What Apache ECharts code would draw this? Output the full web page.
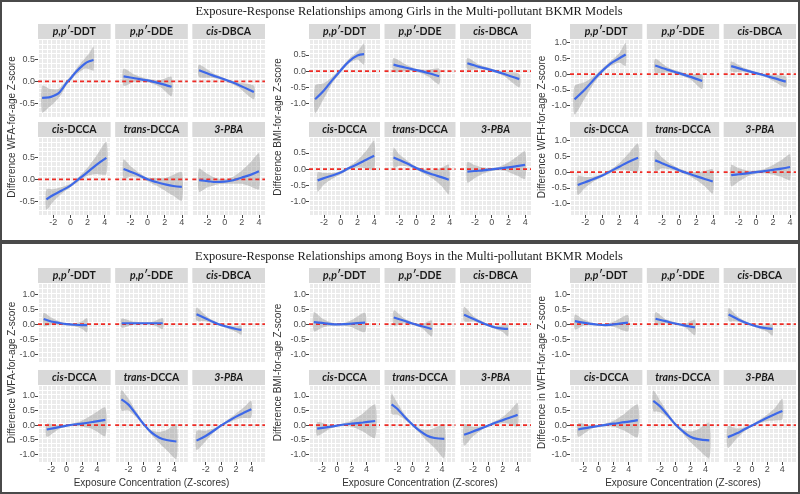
<!DOCTYPE html>
<html>
<head>
<meta charset="utf-8">
<script src="https://cdn.jsdelivr.net/npm/echarts@6/dist/echarts.min.js"></script>
<style>
html, body { margin: 0; padding: 0; background: #fff; }
#chart { width: 800px; height: 494px; }
</style>
</head>
<body>
<div id="chart"></div>
<script>
// facet names (italic part + rest)
var compounds = ['p,p′-DDT', 'p,p′-DDE', 'cis-DBCA', 'cis-DCCA', 'trans-DCCA', '3-PBA'];
var italicPart = ['p,p′', 'p,p′', 'cis', 'cis', 'trans', '3-PBA'];
var xTicks = [-2, 0, 2, 4];
var yTicksWFAgirls = [-0.5, 0, 0.5];
var yTicksBMIgirls = [-1, -0.5, 0, 0.5];
var yTicksFull = [-1, -0.5, 0, 0.5, 1];
var refValue = 0; // null-effect reference line

// each facet: rows of [exposure z, fit, lower, upper]
var girlsWFA = [
  [[-3.3,-0.37,-0.7,-0.1],[-2.5,-0.36,-0.58,-0.16],[-2,-0.33,-0.5,-0.18],[-1.4,-0.27,-0.38,-0.17],[-1,-0.18,-0.27,-0.1],[-0.4,-0.02,-0.07,0.03],[0,0.06,0.01,0.11],[0.55,0.19,0.13,0.25],[1,0.28,0.2,0.36],[1.7,0.4,0.28,0.52],[2.2,0.45,0.27,0.63],[2.7,0.48,0.24,0.78]],
  [[-2.8,0.11,-0.1,0.28],[-1.5,0.07,-0.01,0.15],[0,0.02,-0.02,0.06],[1.5,-0.05,-0.13,0.03],[2.8,-0.12,-0.33,0.1]],
  [[-3,0.25,0.1,0.37],[-1.5,0.14,0.08,0.2],[0,0.04,0.01,0.07],[1.5,-0.07,-0.12,-0.02],[3.4,-0.24,-0.4,-0.1]],
  [[-2.8,-0.45,-0.68,-0.22],[-2,-0.35,-0.5,-0.22],[-1,-0.25,-0.32,-0.17],[0,-0.14,-0.18,-0.1],[1,0.01,-0.04,0.06],[2,0.16,0.08,0.26],[3,0.32,0.12,0.52],[4.2,0.48,0.12,0.84]],
  [[-2.8,0.23,0.02,0.45],[-2,0.17,0.06,0.3],[-1,0.09,0.04,0.15],[0,0,-0.04,0.04],[1,-0.06,-0.14,0.03],[2,-0.11,-0.25,0.03],[3,-0.15,-0.37,0.1],[4,-0.17,-0.48,0.16]],
  [[-3,-0.02,-0.28,0.24],[-2,-0.04,-0.18,0.12],[-1,-0.06,-0.12,0.03],[0,-0.05,-0.1,0],[1,-0.02,-0.1,0.06],[2,0.04,-0.1,0.2],[3,0.1,-0.16,0.38],[4,0.18,-0.22,0.58]]
];
var girlsBMI = [
  [[-3.05,-0.87,-1.3,-0.45],[-2,-0.6,-0.85,-0.38],[-1,-0.28,-0.38,-0.18],[0,0.02,-0.04,0.08],[1,0.3,0.24,0.38],[2,0.48,0.36,0.6],[2.8,0.52,0.2,0.85]],
  [[-2.7,0.2,-0.03,0.4],[-1.35,0.11,0,0.22],[0,0.03,-0.02,0.07],[1.4,-0.06,-0.16,0.04],[2.75,-0.16,-0.41,0.07]],
  [[-2.9,0.24,0.05,0.4],[-1.5,0.13,0.06,0.2],[0,0.03,-0.01,0.07],[1.5,-0.09,-0.16,-0.02],[3.3,-0.25,-0.5,-0.09]],
  [[-2.75,-0.35,-0.7,-0.1],[-2,-0.28,-0.48,-0.12],[-1,-0.2,-0.3,-0.12],[0,-0.11,-0.16,-0.06],[1,0.03,-0.02,0.08],[2,0.15,0.05,0.27],[3,0.28,0.03,0.55],[4,0.41,-0.03,0.87]],
  [[-2.7,0.36,0.03,0.66],[-2,0.28,0.1,0.45],[-1,0.16,0.08,0.25],[0,0.03,-0.02,0.08],[1,-0.08,-0.15,-0.01],[2,-0.17,-0.3,-0.04],[3,-0.25,-0.52,0.04],[3.9,-0.33,-0.78,0.13]],
  [[-2.9,-0.08,-0.42,0.22],[-2,-0.06,-0.28,0.12],[-1,-0.04,-0.14,0.05],[0,-0.01,-0.06,0.03],[1,0.02,-0.04,0.08],[2,0.05,-0.09,0.2],[3,0.09,-0.2,0.38],[4,0.13,-0.3,0.55]]
];
var girlsWFH = [
  [[-3.25,-0.8,-1.28,-0.38],[-2,-0.48,-0.75,-0.25],[-1,-0.18,-0.3,-0.06],[0,0.1,0.04,0.17],[1,0.34,0.26,0.42],[2,0.5,0.36,0.66],[2.75,0.62,0.26,0.98]],
  [[-2.8,0.27,0.04,0.48],[-1.4,0.14,0.06,0.22],[0,0.03,-0.02,0.08],[1.35,-0.09,-0.17,-0.01],[2.7,-0.22,-0.47,-0.02]],
  [[-2.9,0.25,0.08,0.4],[-1.5,0.14,0.07,0.21],[0,0.03,-0.01,0.07],[1.5,-0.08,-0.14,-0.02],[3.5,-0.24,-0.42,-0.08]],
  [[-2.87,-0.41,-0.73,-0.12],[-2,-0.32,-0.5,-0.16],[-1,-0.22,-0.3,-0.14],[0,-0.11,-0.16,-0.06],[1,0.03,-0.02,0.08],[2,0.17,0.07,0.28],[3,0.31,0.06,0.56],[4.2,0.45,0,0.9]],
  [[-2.8,0.37,0.03,0.7],[-2,0.28,0.12,0.46],[-1,0.17,0.08,0.26],[0,0.06,0.01,0.11],[1,-0.04,-0.1,0.02],[2,-0.13,-0.25,-0.01],[3,-0.22,-0.45,0.03],[3.95,-0.3,-0.68,0.08]],
  [[-2.9,-0.1,-0.45,0.22],[-2,-0.07,-0.3,0.12],[-1,-0.04,-0.14,0.05],[0,0,-0.05,0.05],[1,0.03,-0.04,0.1],[2,0.07,-0.08,0.22],[3,0.11,-0.16,0.38],[4,0.16,-0.25,0.56]]
];
var boysWFA = [
  [[-3,0.17,-0.06,0.38],[-2,0.09,-0.02,0.22],[-1,0.04,-0.02,0.1],[0,0,-0.04,0.04],[1,-0.02,-0.07,0.03],[2,-0.03,-0.15,0.09],[2.7,-0.03,-0.27,0.2]],
  [[-2.9,0.03,-0.12,0.18],[-1.5,0.03,-0.03,0.09],[0,0.03,0,0.06],[1.2,0.03,-0.02,0.08],[2.5,0.03,-0.16,0.2]],
  [[-3.2,0.33,0.12,0.55],[-2,0.19,0.1,0.29],[-1,0.07,0.02,0.12],[0,-0.03,-0.07,0.01],[1,-0.1,-0.15,-0.05],[2,-0.16,-0.26,-0.07],[2.7,-0.19,-0.35,-0.05]],
  [[-2.6,-0.15,-0.4,0.04],[-1,-0.07,-0.13,-0.01],[0,-0.02,-0.05,0.01],[1,0.02,-0.03,0.07],[2,0.05,-0.05,0.15],[3.5,0.11,-0.15,0.37],[5.1,0.18,-0.37,0.6]],
  [[-2.93,0.88,0.5,1.2],[-2,0.7,0.5,0.9],[-1,0.37,0.28,0.47],[0,0.03,-0.02,0.08],[1,-0.25,-0.33,-0.17],[2,-0.42,-0.6,-0.24],[3,-0.51,-0.85,-0.17],[4.3,-0.56,-1.15,0.03]],
  [[-3.2,-0.53,-0.85,-0.2],[-2,-0.37,-0.55,-0.19],[-1,-0.2,-0.27,-0.12],[0,-0.02,-0.06,0.02],[1,0.14,0.08,0.2],[2,0.29,0.19,0.4],[3,0.42,0.24,0.6],[4,0.54,0.26,0.83]]
];
var boysBMI = [
  [[-3.1,0.07,-0.24,0.4],[-2,0.04,-0.12,0.2],[-1,0.01,-0.06,0.08],[0,-0.01,-0.05,0.03],[1,0,-0.05,0.05],[2,0.02,-0.1,0.14],[3.8,0.05,-0.26,0.38]],
  [[-2.5,0.22,-0.05,0.46],[-1.2,0.12,0.03,0.21],[0,0.02,-0.02,0.06],[1.3,-0.07,-0.14,0],[2.6,-0.16,-0.41,0.12]],
  [[-3.2,0.31,0.1,0.58],[-2,0.18,0.09,0.28],[-1,0.07,0.02,0.12],[0,-0.03,-0.07,0.01],[1,-0.11,-0.16,-0.06],[2,-0.15,-0.26,-0.04],[2.7,-0.16,-0.4,0]],
  [[-2.65,-0.12,-0.36,0.1],[-1,-0.06,-0.13,0.01],[0,-0.02,-0.05,0.01],[1,0.02,-0.03,0.07],[2,0.05,-0.06,0.16],[3.5,0.09,-0.22,0.4],[5.15,0.14,-0.44,0.7]],
  [[-2.8,0.71,0.38,1.08],[-2,0.55,0.35,0.75],[-1,0.27,0.18,0.36],[0,0.02,-0.03,0.07],[1,-0.2,-0.28,-0.12],[2,-0.36,-0.55,-0.17],[3,-0.44,-0.78,-0.1],[4.3,-0.47,-1.13,0.02]],
  [[-3.2,-0.33,-0.7,0.03],[-2,-0.22,-0.38,-0.06],[-1,-0.12,-0.19,-0.05],[0,-0.02,-0.06,0.02],[1,0.08,0.02,0.14],[2,0.17,0.06,0.28],[3,0.26,0.03,0.5],[4,0.35,-0.05,0.76]]
];
var boysWFH = [
  [[-3.1,0.1,-0.17,0.32],[-2,0.05,-0.05,0.16],[-1,0.01,-0.04,0.06],[0,-0.02,-0.05,0.01],[1,-0.03,-0.07,0.01],[2,-0.01,-0.09,0.08],[3.9,0.05,-0.24,0.3]],
  [[-2.6,0.18,-0.03,0.4],[-1.3,0.1,0.03,0.17],[0,0.02,-0.02,0.06],[1.3,-0.05,-0.11,0.01],[2.6,-0.11,-0.37,0.15]],
  [[-3.1,0.32,0.11,0.54],[-2,0.18,0.09,0.28],[-1,0.06,0.01,0.11],[0,-0.03,-0.07,0.01],[1,-0.1,-0.15,-0.05],[2,-0.14,-0.25,-0.04],[2.7,-0.16,-0.38,0]],
  [[-2.67,-0.15,-0.4,0.06],[-1,-0.07,-0.13,-0.01],[0,-0.03,-0.06,0],[1,0.01,-0.04,0.06],[2,0.05,-0.06,0.15],[3.5,0.1,-0.2,0.4],[5.2,0.17,-0.41,0.7]],
  [[-2.9,0.83,0.48,1.18],[-2,0.64,0.44,0.84],[-1,0.34,0.25,0.43],[0,0.03,-0.02,0.08],[1,-0.21,-0.29,-0.13],[2,-0.4,-0.58,-0.22],[3,-0.48,-0.82,-0.14],[4.5,-0.52,-1.13,0.08]],
  [[-3.2,-0.41,-0.78,-0.04],[-2,-0.28,-0.45,-0.11],[-1,-0.14,-0.21,-0.07],[0,-0.01,-0.05,0.03],[1,0.12,0.06,0.18],[2,0.25,0.14,0.36],[3,0.37,0.16,0.58],[4,0.48,0.2,0.9]]
];

var sections = [
  { title: 'Exposure-Response Relationships among Girls in the Multi-pollutant BKMR Models',
    titleY: 12, rows: [[24, 39, 117], [122, 137, 215]], xRange: [-3.78, 4.7], xTitle: false },
  { title: 'Exposure-Response Relationships among Boys in the Multi-pollutant BKMR Models',
    titleY: 257, rows: [[268, 283, 362], [370, 385, 462]], xRange: [-3.75, 5.8], xTitle: true }
];
var panelX = [[38, 265], [309, 531], [570, 796]];
var yTitleX = [12, 278, 542];

var panels = [
  { sec: 0, col: 0, data: girlsWFA, yName: 'Difference WFA-for-age Z-score', yTicks: yTicksWFAgirls, yRange: [-0.8, 0.95] },
  { sec: 0, col: 1, data: girlsBMI, yName: 'Difference BMI-for-age Z-score', yTicks: yTicksBMIgirls, yRange: [-1.42, 0.99] },
  { sec: 0, col: 2, data: girlsWFH, yName: 'Difference WFH-for-age Z-score', yTicks: yTicksFull, yRange: [-1.36, 1.11] },
  { sec: 1, col: 0, data: boysWFA, yName: 'Difference WFA-for-age Z-score', yTicks: yTicksFull, yRange: [-1.26, 1.37] },
  { sec: 1, col: 1, data: boysBMI, yName: 'Difference BMI-for-age Z-score', yTicks: yTicksFull, yRange: [-1.26, 1.37] },
  { sec: 1, col: 2, data: boysWFH, yName: 'Difference in WFH-for-age Z-score', yTicks: yTicksFull, yRange: [-1.26, 1.37] }
];

var axisFont = 'Liberation Sans, Arial, sans-serif';
var stripFont = 'Lato, Open Sans, sans-serif';
var grids = [], xAxes = [], yAxes = [], series = [], graphics = [];

sections.forEach(function (s) {
  graphics.push({ type: 'text', x: 409, y: s.titleY, silent: true,
    style: { text: s.title, font: '12.5px "Liberation Serif", "Times New Roman", serif', fill: '#1a1a1a', align: 'center', verticalAlign: 'middle' } });
});
graphics.push({ type: 'rect', shape: { x: 1, y: 1, width: 798, height: 240 }, silent: true, style: { fill: 'none', stroke: '#4a4a4a', lineWidth: 2 } });
graphics.push({ type: 'rect', shape: { x: 1, y: 243, width: 798, height: 250 }, silent: true, style: { fill: 'none', stroke: '#4a4a4a', lineWidth: 2 } });

panels.forEach(function (p) {
  var s = sections[p.sec];
  var px = panelX[p.col];
  var gap = 4.5;
  var cw = (px[1] - px[0] - 2 * gap) / 3;
  var mid = (s.rows[0][1] + s.rows[1][2]) / 2;
  graphics.push({ type: 'text', x: yTitleX[p.col], y: mid, rotation: Math.PI / 2, silent: true,
    style: { text: p.yName, font: '10px ' + axisFont, fill: '#333', align: 'center', verticalAlign: 'middle' } });
  if (s.xTitle) {
    graphics.push({ type: 'text', x: (px[0] + px[1]) / 2, y: 483, silent: true,
      style: { text: 'Exposure Concentration (Z-scores)', font: '10px ' + axisFont, fill: '#333', align: 'center', verticalAlign: 'middle' } });
  }
  p.data.forEach(function (rows, f) {
    var r = Math.floor(f / 3), c = f % 3;
    var row = s.rows[r];
    var left = px[0] + c * (cw + gap);
    var gi = grids.length;
    grids.push({ left: left, top: row[1], width: cw, height: row[2] - row[1], show: true,
      backgroundColor: '#EBEBEB', borderWidth: 0 });

    // strip
    var rest = compounds[f].slice(italicPart[f].length);
    graphics.push({ type: 'rect', shape: { x: left, y: row[0], width: cw, height: row[1] - row[0] }, silent: true, style: { fill: '#D9D9D9' } });
    graphics.push({ type: 'text', x: left + cw / 2, y: (row[0] + row[1]) / 2 + 0.5, silent: true,
      style: { text: '{i|' + italicPart[f] + '}' + (rest ? '{b|' + rest + '}' : ''), align: 'center', verticalAlign: 'middle',
        rich: { i: { fontFamily: stripFont, fontWeight: 'bold', fontStyle: 'italic', fontSize: 10.5, fill: '#1a1a1a' },
                b: { fontFamily: stripFont, fontWeight: 'bold', fontSize: 10.5, fill: '#1a1a1a' } } } });

    var showX = r === 1, showY = c === 0;
    xAxes.push({ type: 'value', gridIndex: gi, min: s.xRange[0], max: s.xRange[1], position: 'bottom',
      axisLine: { show: false, onZero: false }, splitLine: { show: false },
      axisTick: { show: showX, customValues: xTicks, length: 3, lineStyle: { color: '#444' } },
      axisLabel: { show: showX, customValues: xTicks, fontSize: 9, fontFamily: axisFont, color: '#4D4D4D', margin: 3 } });
    // helper axis for the fine background grid
    xAxes.push({ type: 'value', gridIndex: gi, min: 0, max: 16, interval: 1, position: 'top',
      axisLine: { show: false, onZero: false }, axisTick: { show: false }, axisLabel: { show: false },
      splitLine: { show: true, lineStyle: { color: '#FFFFFF', width: 1 } } });
    yAxes.push({ type: 'value', gridIndex: gi, min: p.yRange[0], max: p.yRange[1], position: 'left',
      axisLine: { show: false, onZero: false }, splitLine: { show: false },
      axisTick: { show: showY, customValues: p.yTicks, length: 3, lineStyle: { color: '#444' } },
      axisLabel: { show: showY, customValues: p.yTicks, fontSize: 9, fontFamily: axisFont, color: '#4D4D4D', margin: 3,
        formatter: function (v) { return v.toFixed(1); } } });
    yAxes.push({ type: 'value', gridIndex: gi, min: 0, max: 16, interval: 1, position: 'right',
      axisLine: { show: false, onZero: false }, axisTick: { show: false }, axisLabel: { show: false },
      splitLine: { show: true, lineStyle: { color: '#FFFFFF', width: 1 } } });

    series.push({
      type: 'custom', xAxisIndex: 2 * gi, yAxisIndex: 2 * gi, silent: true, z: 2,
      data: rows.map(function (d) { return [d[0], d[2], d[3]]; }),
      encode: { x: 0, y: [1, 2] },
      renderItem: function (params, api) {
        if (params.dataIndex !== 0) return null;
        var up = rows.map(function (d) { return api.coord([d[0], d[3]]); });
        var dn = rows.map(function (d) { return api.coord([d[0], d[2]]); }).reverse();
        return { type: 'polygon', shape: { points: up.concat(dn), smooth: 0.25 },
          style: { fill: 'rgba(150,150,150,0.45)' } };
      }
    });
    // dashed reference line across the whole facet
    series.push({
      type: 'line', xAxisIndex: 2 * gi, yAxisIndex: 2 * gi, silent: true, z: 3,
      data: [[s.xRange[0], refValue], [s.xRange[1], refValue]],
      symbol: 'none', color: '#EE2B25',
      lineStyle: { color: '#EE2B25', type: [4, 3], width: 1.7 }
    });
    series.push({
      type: 'line', xAxisIndex: 2 * gi, yAxisIndex: 2 * gi, silent: true, z: 4,
      data: rows.map(function (d) { return [d[0], d[1]]; }),
      smooth: 0.35, symbol: 'none', color: '#3D68E8',
      lineStyle: { color: '#3D68E8', width: 2.2 }
    });
  });
});

var chart = echarts.init(document.getElementById('chart'));
chart.setOption({
  animation: false,
  grid: grids,
  xAxis: xAxes,
  yAxis: yAxes,
  series: series,
  graphic: { elements: graphics }
});
</script>
</body>
</html>
